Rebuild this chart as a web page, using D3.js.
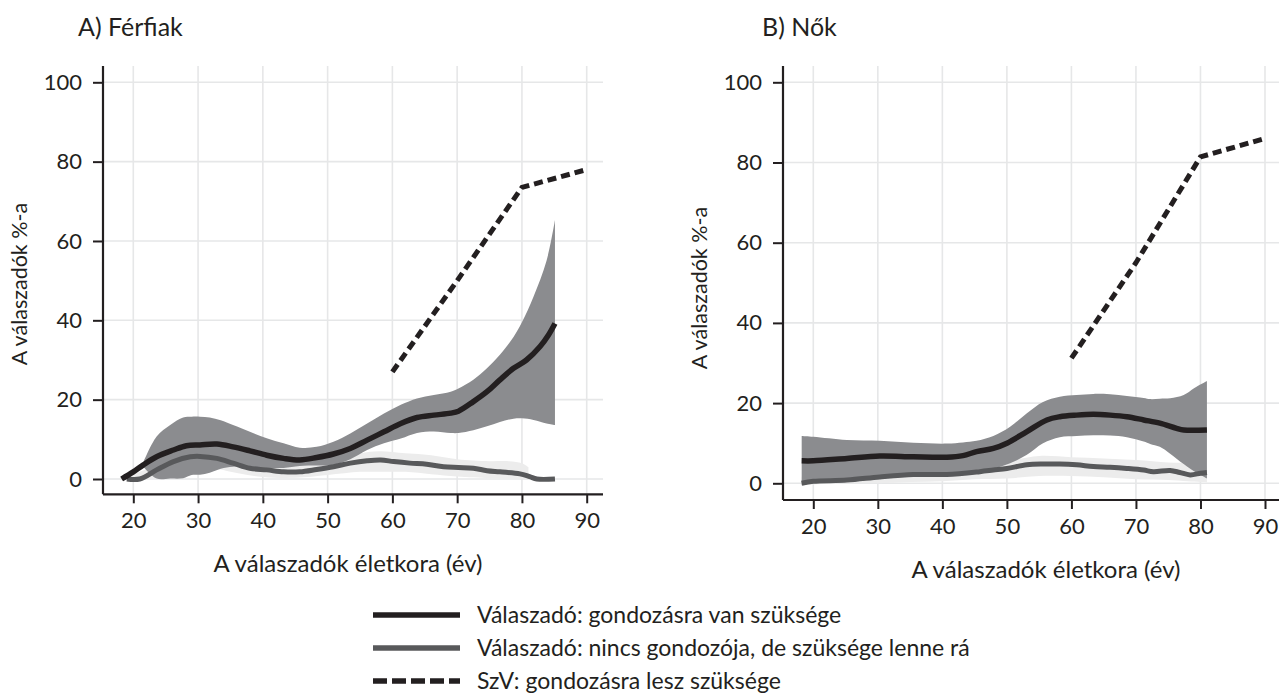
<!DOCTYPE html>
<html><head><meta charset="utf-8">
<script src="https://cdn.jsdelivr.net/npm/d3@7"></script>
<style>
body{margin:0;background:#fff;}
svg text{font-family:Lato,"Open Sans",sans-serif;fill:#231f20;}
</style></head>
<body><svg id="c" width="1279" height="700"></svg>
<script>
// ---------- DATA ----------
const xTicks = [20,30,40,50,60,70,80,90];
const yTicks = [0,20,40,60,80,100];
const panelTitles = ["A) Férfiak","B) Nők"];
const yTitle = "A válaszadók %-a";
const xTitle = "A válaszadók életkora (év)";
const legendLabels = ["Válaszadó: gondozásra van szüksége","Válaszadó: nincs gondozója, de szüksége lenne rá","SzV: gondozásra lesz szüksége"];

// Men: needs care (black) [age, value]
const menNeed = [[18.2,0],[20,1.8],[21.5,3.5],[23.6,5.6],[26.2,7.3],[28.2,8.4],[30.3,8.6],[32.9,8.8],[35.4,8.1],[38,7.1],[40.6,6.0],[43.2,5.2],[45.7,4.8],[48.3,5.4],[50.9,6.3],[53.5,7.7],[56.1,9.8],[58.7,11.9],[61.3,14],[63.8,15.5],[66.4,16.1],[69,16.6],[70.2,17.1],[72.5,19.5],[74.6,22],[76.6,25],[78.7,27.9],[80.7,30],[82.8,33.4],[84.1,36.3],[85.1,39.2]];
// Men: needs care band [age, lower, upper]
const menNeedCI = [[21.5,3.2,4.0],[23.6,0.1,10.7],[25.7,0.1,13.6],[27.7,0.2,15.5],[29,1.0,15.7],[30.3,1.1,15.7],[31.8,1.6,15.5],[33.5,2.6,14.8],[35.4,3.1,13.6],[38,3.0,11.9],[40.6,2.8,10.3],[43.2,2.8,9.0],[45.7,3.3,7.9],[48.3,3.4,8.1],[50.9,3.6,9.4],[53.5,5.0,11.5],[56.1,7.3,14],[58.7,9.0,16.5],[61.3,10.2,18.7],[63.8,11.6,20.3],[66.4,12.0,21.2],[69,11.6,22],[70.2,11.6,22.8],[72.5,12.3,25],[74.6,13.3,27.9],[76.6,14.4,31.3],[78.7,15.2,35.8],[80,15.3,39.5],[81.8,14.9,46],[83.8,14.0,55],[85.1,13.6,65.3]];
// Men: no carer (dark grey)
const menNoCarer = [[19,0],[21,0],[23.6,2.3],[26.2,4.4],[28.8,5.6],[30.3,5.7],[32.9,5.2],[35.4,4.0],[38,2.7],[40.6,2.3],[43.2,1.8],[45.7,1.8],[48.3,2.4],[50.9,3.1],[53.5,4.0],[56.1,4.6],[58.2,4.8],[60.2,4.4],[62.7,4.0],[65.3,3.7],[67.9,3.1],[70.2,2.9],[72.5,2.7],[74.6,2.1],[76.6,1.8],[79.7,1.3],[81.2,0.6],[82.3,0],[85.1,0]];
const menNoCarerCI = [[19,0,0.5],[22,0,2.5],[25,0.5,5],[28,2.5,7],[30,3,7.5],[33,2.5,7],[36,1.5,5.5],[40,0.5,4],[45,0.3,3.2],[50,1,4.5],[55,1.8,6.5],[58,1.8,7],[62,1.8,6.5],[66,1.2,6],[70,0.6,5],[75,0.2,4.5],[78,0,4.5],[80,0,4],[81,0,3]];
// Men: expected need (dashed)
const menFuture = [[60,27],[70,50],[80,73.5],[90,78]];

// Women
const womNeed = [[18.2,5.6],[20,5.6],[25.2,6.2],[30.3,6.8],[35.5,6.6],[40.7,6.5],[43.2,6.9],[45.3,7.9],[47.9,8.7],[50,10],[53.1,12.9],[56.2,15.8],[58.2,16.6],[60.8,17],[63.4,17.2],[66,17],[68.6,16.6],[71.2,15.8],[73.7,15],[76.3,13.7],[77.4,13.3],[81,13.3]];
const womNeedCI = [[18.2,-0.5,11.8],[20,0,11.6],[25.2,0.3,10.8],[30.3,1.2,10.6],[35.5,1.8,10.1],[40.7,1.9,9.9],[43.2,2.5,10.2],[45.3,3.0,10.6],[47.9,3.7,11.8],[50.5,5.0,14.1],[53.1,7.1,17.5],[55.6,10,20.3],[58.2,11.5,21.6],[60.8,11.8,22],[63.4,12,22.3],[66,11.9,22.2],[68.6,11.5,21.8],[71.2,10.4,21.3],[72.2,9.8,21],[73.7,9.1,21.1],[75.3,7.4,21.2],[77.4,4.8,22],[79,3.0,23.7],[81,1.2,25.5]];
const womNoCarer = [[18.2,0],[20,0.5],[25.2,0.8],[30.3,1.6],[35.5,2.2],[40.7,2.2],[45.8,2.9],[47.9,3.3],[50,3.7],[53.1,4.6],[55.6,4.8],[58.2,4.8],[60.8,4.6],[63.4,4.2],[66,4.0],[68.6,3.7],[71.2,3.3],[72.7,2.9],[75.3,3.2],[76.8,2.7],[78.4,2.1],[80,2.5],[81,2.7]];
const womNoCarerCI = [[18.2,-0.5,1.5],[20,-0.3,2],[25,0,2.5],[30,0,3.5],[35,0.3,4],[40,0.5,4],[45,1,4.5],[50,1.2,5.5],[55,1.8,6.8],[60,1.8,6.5],[65,1.5,6.2],[70,1,5.8],[75,0.8,5.2],[78,0.5,5],[80,0.3,4],[81,0.2,4]];
const womFuture = [[60,31.2],[70,55],[80,81.4],[90,86]];

// ---------- DRAW ----------
const svg = d3.select("#c");
const C = {txt:"#231f20", black:"#231f20", grey:"#58595b", band:"#8b8c8f", light:"#ececec", grid:"#e6e7e8"};

const panels = [
  {title:panelTitles[0], tx:78, ty:36, xr:[133.3,586.7], yr:[479,82.3], axX:103, axYbot:494.3, top:66, right:603,
   need:menNeed, needCI:menNeedCI, noc:menNoCarer, nocCI:menNoCarerCI, fut:menFuture,
   ytx:19, yty:284, xtx:348, xty:572},
  {title:panelTitles[1], tx:762, ty:36, xr:[813.3,1265], yr:[483.3,82.3], axX:783, axYbot:500, top:66, right:1279,
   need:womNeed, needCI:womNeedCI, noc:womNoCarer, nocCI:womNoCarerCI, fut:womFuture,
   ytx:699, yty:288, xtx:1046, xty:578}
];

panels.forEach(p => {
  const x = d3.scaleLinear().domain([20,90]).range(p.xr);
  const y = d3.scaleLinear().domain([0,100]).range(p.yr);
  const g = svg.append("g");

  // grid
  g.selectAll(".vg").data(xTicks).join("line")
    .attr("x1",d=>x(d)).attr("x2",d=>x(d)).attr("y1",p.top).attr("y2",p.axYbot)
    .attr("stroke",C.grid).attr("stroke-width",1.6);
  g.selectAll(".hg").data(yTicks).join("line")
    .attr("x1",p.axX).attr("x2",p.right).attr("y1",d=>y(d)).attr("y2",d=>y(d))
    .attr("stroke",C.grid).attr("stroke-width",1.6);

  const area = d3.area().x(d=>x(d[0])).y0(d=>y(d[1])).y1(d=>y(d[2])).curve(d3.curveCatmullRom);
  const line = d3.line().x(d=>x(d[0])).y(d=>y(d[1])).curve(d3.curveCatmullRom);

  g.append("path").attr("d",area(p.nocCI)).attr("fill",C.light);
  g.append("path").attr("d",area(p.needCI)).attr("fill",C.band);
  g.append("path").attr("d",line(p.noc)).attr("fill","none").attr("stroke",C.grey).attr("stroke-width",5);
  g.append("path").attr("d",line(p.need)).attr("fill","none").attr("stroke",C.black).attr("stroke-width",5.5);
  g.append("path").attr("d",d3.line().x(d=>x(d[0])).y(d=>y(d[1]))(p.fut)).attr("fill","none")
    .attr("stroke",C.black).attr("stroke-width",5).attr("stroke-dasharray","9,5");

  // axes
  const ax = d3.axisBottom(x).tickValues(xTicks).tickSize(9).tickPadding(9);
  const gx = g.append("g").attr("transform",`translate(0,${p.axYbot})`).call(ax);
  gx.select(".domain").remove();
  gx.selectAll(".tick line").attr("stroke",C.black).attr("stroke-width",2);
  gx.selectAll(".tick text").attr("font-size",22).attr("fill",C.txt).attr("font-family","Lato");
  const ay = d3.axisLeft(y).tickValues(yTicks).tickSize(10).tickPadding(11);
  const gy = g.append("g").attr("transform",`translate(${p.axX},0)`).call(ay);
  gy.select(".domain").remove();
  gy.selectAll(".tick line").attr("stroke",C.black).attr("stroke-width",2);
  gy.selectAll(".tick text").attr("font-size",22).attr("fill",C.txt).attr("font-family","Lato");

  g.append("line").attr("x1",p.axX).attr("x2",p.right).attr("y1",p.axYbot).attr("y2",p.axYbot).attr("stroke",C.black).attr("stroke-width",2.2);
  g.append("line").attr("x1",p.axX).attr("x2",p.axX).attr("y1",p.top).attr("y2",p.axYbot).attr("stroke",C.black).attr("stroke-width",2.2);

  g.append("text").attr("x",p.tx).attr("y",p.ty).attr("font-size",25).text(p.title);
  g.append("text").attr("transform",`translate(${p.ytx},${p.yty}) rotate(-90)`).attr("text-anchor","middle")
    .attr("dominant-baseline","central").attr("font-size",21.5).text(yTitle);
  g.append("text").attr("x",p.xtx).attr("y",p.xty).attr("text-anchor","middle").attr("font-size",24).text(xTitle);
});

// legend
const legStyles = [
  {stroke:C.black, w:5.5, dash:null},
  {stroke:C.grey, w:5.5, dash:null},
  {stroke:C.black, w:5.5, dash:"14,5"}
];
const lg = svg.append("g");
legendLabels.forEach((t,i)=>{
  const yy = 615 + i*33;
  lg.append("line").attr("x1",373).attr("x2",460).attr("y1",yy).attr("y2",yy)
    .attr("stroke",legStyles[i].stroke).attr("stroke-width",legStyles[i].w)
    .attr("stroke-dasharray",legStyles[i].dash);
  lg.append("text").attr("x",477).attr("y",yy+8).attr("font-size",23).text(t);
});
</script></body></html>
